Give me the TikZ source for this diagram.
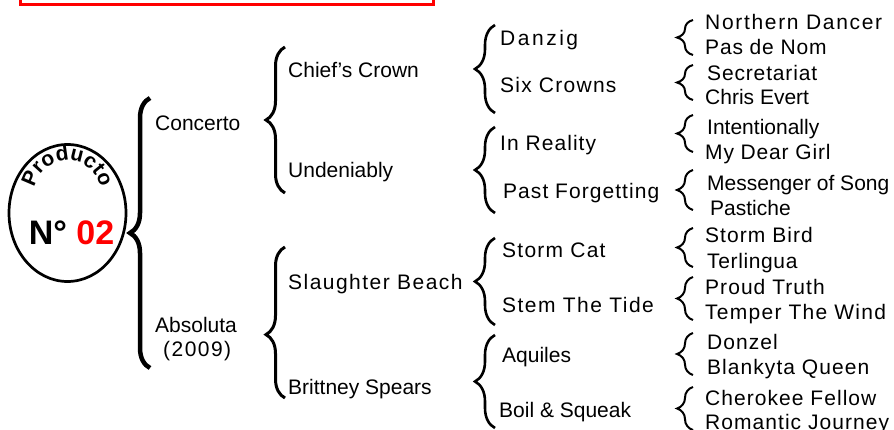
\documentclass[tikz,border=0pt]{standalone}
\usepackage{fontspec}
\setmainfont{Liberation Sans}
\usepackage{tikz}
\usetikzlibrary{decorations.pathreplacing, decorations.text, shapes.geometric}
\definecolor{prodred}{RGB}{255,0,0}
\newcommand{\lsp}[2]{{\addfontfeatures{LetterSpace=#1}#2}}

\begin{document}
\begin{tikzpicture}[x=1pt,y=-1pt,
  lbl/.style={anchor=west,inner sep=0pt,text height=15pt,text depth=0pt,font=\fontsize{21}{25}\selectfont},
  brcone/.style={decorate,decoration={brace,amplitude=20pt},line width=4.5pt},
  brctwo/.style={decorate,decoration={brace,amplitude=19pt,aspect=#1},line width=3pt},
  brcthree/.style={decorate,decoration={brace,amplitude=20pt},line width=2.6pt},
  brcfour/.style={decorate,decoration={brace,amplitude=16pt},line width=2pt}]
\useasboundingbox (0,0) rectangle (894,430);
\clip (0,0) rectangle (894,430);

% title box, cut by the top edge
\draw[prodred, line width=3.3pt] (20.8,-30) rectangle (433.3,4.2);

% the product stamp
\node (ov) [ellipse, draw, line width=2.7pt, minimum width=117, minimum height=137, inner sep=0pt] at (67.5,213) {};
\coordinate (arcc) at (67.5,194);
\path[decorate, decoration={text along path, text align=center, text={|\fontsize{21}{21}\selectfont\bfseries|Producto}}] (arcc) ++(180:33.5) arc[start angle=180, end angle=360, radius=33.5];
\node (num) [inner sep=0pt, text height=24.4pt, text depth=0pt, font=\fontsize{34}{34}\selectfont\bfseries] at (71.5,232) {N° \textcolor{prodred}{02}};

% first brace
\coordinate (a1t) at (150,98); \coordinate (a1b) at (150,368); \draw[brcone] (a1b) -- (a1t);
\node[lbl] (conc) at (155,123) {Concerto};
\node[lbl] (abso) at (155,325) {Absoluta};
\node[lbl] (yr) at (163,349) {\lsp{7}{(2009)}};

% second level
\coordinate (b1t) at (285,47); \coordinate (b1b) at (285,193); \draw[brctwo=0.5] (b1b) -- (b1t);
\coordinate (b2t) at (285,247); \coordinate (b2b) at (285,398); \draw[brctwo=0.42] (b2b) -- (b2t);
\node[lbl] (chief) at (288,70) {Chief's Crown};
\node[lbl] (unden) at (288,170) {Undeniably};
\node[lbl] (slau) at (288,282) {\lsp{7}{Slaughter Beach}};
\node[lbl] (britt) at (288,387) {Brittney Spears};

% third level
\coordinate (c1t) at (495,25); \coordinate (c1b) at (495,113); \draw[brcthree] (c1b) -- (c1t);
\coordinate (c2t) at (495,127); \coordinate (c2b) at (495,213); \draw[brcthree] (c2b) -- (c2t);
\coordinate (c3t) at (495,238); \coordinate (c3b) at (495,325); \draw[brcthree] (c3b) -- (c3t);
\coordinate (c4t) at (495,335); \coordinate (c4b) at (495,428); \draw[brcthree] (c4b) -- (c4t);
\node[lbl] (danz) at (500,38) {\lsp{12}{Danzig}};
\node[lbl] (six) at (500,85) {\lsp{6}{Six Crowns}};
\node[lbl] (inre) at (500,143) {\lsp{5}{In Reality}};
\node[lbl] (past) at (503,191) {\lsp{5}{Past Forgetting}};
\node[lbl] (stcat) at (502,250) {\lsp{6}{Storm Cat}};
\node[lbl] (stem) at (502,305) {\lsp{7}{Stem The Tide}};
\node[lbl] (aqui) at (502,355) {Aquiles};
\node[lbl] (boil) at (499,410) {Boil \& Squeak};

% fourth level
\coordinate (d1t) at (693,20); \coordinate (d1b) at (693,55); \draw[brcfour] (d1b) -- (d1t);
\coordinate (d2t) at (693,65); \coordinate (d2b) at (693,100); \draw[brcfour] (d2b) -- (d2t);
\coordinate (d3t) at (693,115); \coordinate (d3b) at (693,152); \draw[brcfour] (d3b) -- (d3t);
\coordinate (d4t) at (693,170); \coordinate (d4b) at (693,210); \draw[brcfour] (d4b) -- (d4t);
\coordinate (d5t) at (693,228); \coordinate (d5b) at (693,267); \draw[brcfour] (d5b) -- (d5t);
\coordinate (d6t) at (693,277); \coordinate (d6b) at (693,320); \draw[brcfour] (d6b) -- (d6t);
\coordinate (d7t) at (693,333); \coordinate (d7b) at (693,375); \draw[brcfour] (d7b) -- (d7t);
\coordinate (d8t) at (693,387); \coordinate (d8b) at (693,430); \draw[brcfour] (d8b) -- (d8t);
\node[lbl] (nd) at (705,22) {\lsp{8}{Northern Dancer}};
\node[lbl] (pdn) at (705,47) {\lsp{4}{Pas de Nom}};
\node[lbl] (sec) at (707,73) {\lsp{4}{Secretariat}};
\node[lbl] (ce) at (705,97) {Chris Evert};
\node[lbl] (inte) at (707,127) {Intentionally};
\node[lbl] (mdg) at (705,152) {\lsp{4}{My Dear Girl}};
\node[lbl] (mos) at (707,183) {Messenger of Song};
\node[lbl] (pas) at (710,208) {Pastiche};
\node[lbl] (sb) at (705,235) {\lsp{5}{Storm Bird}};
\node[lbl] (ter) at (707,261) {\lsp{3}{Terlingua}};
\node[lbl] (pt) at (705,287) {\lsp{5}{Proud Truth}};
\node[lbl] (ttw) at (705,312) {\lsp{6}{Temper The Wind}};
\node[lbl] (don) at (707,342) {\lsp{5}{Donzel}};
\node[lbl] (bq) at (707,367) {\lsp{5}{Blankyta Queen}};
\node[lbl] (cf) at (705,398) {\lsp{5}{Cherokee Fellow}};
\node[lbl] (rj) at (705,422) {\lsp{5}{Romantic Journey}};
\end{tikzpicture}
\end{document}
